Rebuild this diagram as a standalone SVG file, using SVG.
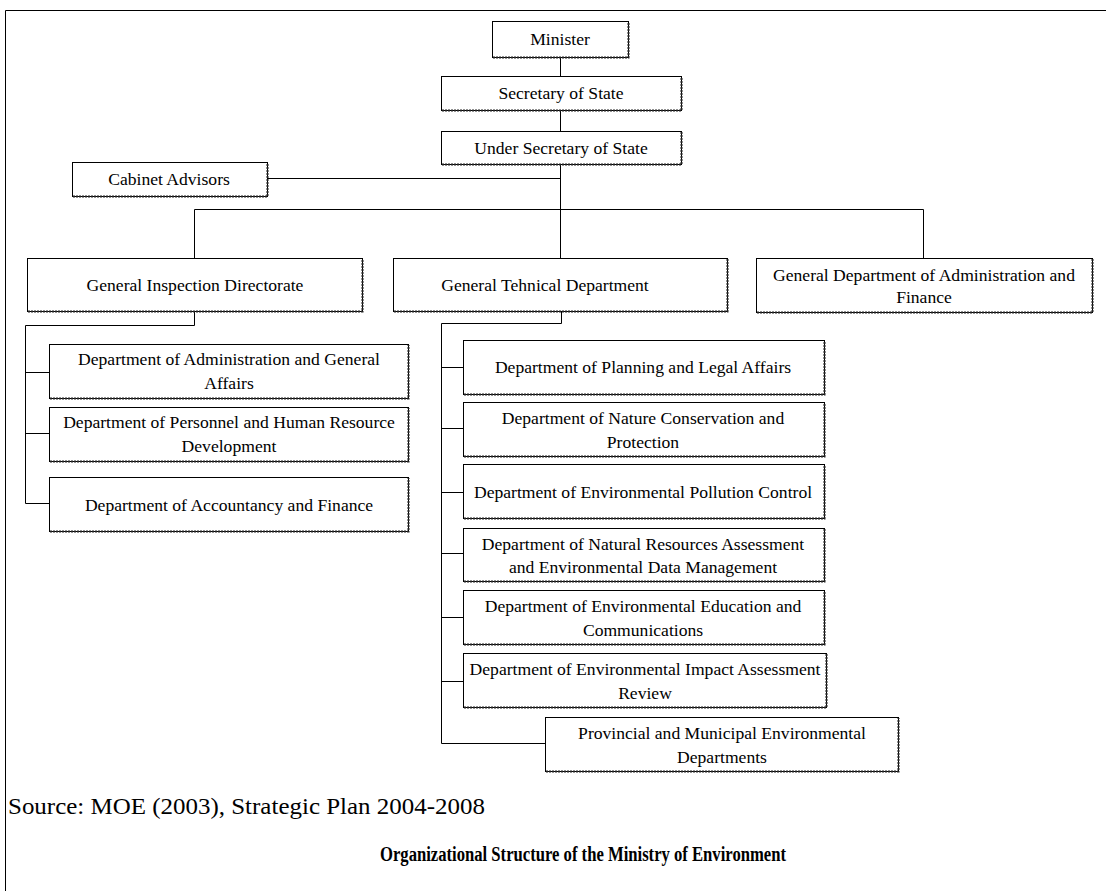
<svg xmlns="http://www.w3.org/2000/svg" width="1106" height="891" viewBox="0 0 1106 891">
<style>
.bx{fill:#fff;stroke:#000;stroke-width:1}
.sh{fill:none;stroke:#222;stroke-width:2;stroke-dasharray:2 1}
.t{font-family:'Liberation Serif','DejaVu Serif','Noto Serif',serif;font-size:17.6px;fill:#000;text-anchor:middle}
.src{font-family:'Liberation Serif','DejaVu Serif',serif;font-size:22.5px;fill:#000}
.ttl{font-family:'Liberation Serif','DejaVu Serif',serif;font-size:20px;font-weight:bold;fill:#000;text-anchor:middle}
.ln{fill:none;stroke:#000;stroke-width:1}
</style>
<rect width="1106" height="891" fill="#fff"/>
<g id="frame"><path d="M5.5 891 V10.5 H1106" class="ln" stroke-width="2"/></g>
<g id="connectors">
<path class="ln" d="M560.5 57 V258 M267 178.5 H560.5 M194.5 258 V209.5 H923.5 V258"/>
<path class="ln" d="M194.5 312 V325.5 H25.5 V503.5 H49 M25.5 372.5 H49 M25.5 433.5 H49"/>
<path class="ln" d="M561.5 312 V323.5 H441.5 V743.5 H545 M441.5 367.5 H463 M441.5 428.5 H463 M441.5 492.5 H463 M441.5 553.5 H463 M441.5 617.5 H463 M441.5 681.5 H463"/>
</g>
<g id="n-minister"><rect class="bx" x="492.5" y="21.5" width="136" height="36"/><path class="sh" d="M493 57.5 H628.5 V22"/><text class="t" x="560" y="45">Minister</text></g>
<g id="n-secretary"><rect class="bx" x="441.5" y="76.5" width="240" height="34"/><path class="sh" d="M442 110.5 H681.5 V77"/><text class="t" x="561" y="99">Secretary of State</text></g>
<g id="n-under"><rect class="bx" x="441.5" y="131.5" width="240" height="33"/><path class="sh" d="M442 164.5 H681.5 V132"/><text class="t" x="561" y="154">Under Secretary of State</text></g>
<g id="n-cabinet"><rect class="bx" x="72.5" y="162.5" width="195" height="34"/><path class="sh" d="M73 196.5 H267.5 V163"/><text class="t" x="169" y="185">Cabinet Advisors</text></g>
<g id="n-gid"><rect class="bx" x="27.5" y="258.5" width="335" height="53"/><path class="sh" d="M28 311.5 H362.5 V259"/><text class="t" x="195" y="291">General Inspection Directorate</text></g>
<g id="n-gtd"><rect class="bx" x="393.5" y="258.5" width="334" height="53"/><path class="sh" d="M394 311.5 H727.5 V259"/><text class="t" x="545" y="291">General Tehnical Department</text></g>
<g id="n-gdaf"><rect class="bx" x="756.5" y="258.5" width="336" height="54"/><path class="sh" d="M757 312.5 H1092.5 V259"/><text class="t" x="924" y="281">General Department of Administration and</text><text class="t" x="924" y="303">Finance</text></g>
<g id="n-admin"><rect class="bx" x="49.5" y="344.5" width="359" height="54"/><path class="sh" d="M50 398.5 H408.5 V345"/><text class="t" x="229" y="365">Department of Administration and General</text><text class="t" x="229" y="389">Affairs</text></g>
<g id="n-personnel"><rect class="bx" x="49.5" y="407.5" width="359" height="54"/><path class="sh" d="M50 461.5 H408.5 V408"/><text class="t" x="229" y="428">Department of Personnel and Human Resource</text><text class="t" x="229" y="452">Development</text></g>
<g id="n-accountancy"><rect class="bx" x="49.5" y="477.5" width="359" height="54"/><path class="sh" d="M50 531.5 H408.5 V478"/><text class="t" x="229" y="511">Department of Accountancy and Finance</text></g>
<g id="n-planning"><rect class="bx" x="463.5" y="340.5" width="361" height="54"/><path class="sh" d="M464 394.5 H824.5 V341"/><text class="t" x="643" y="373">Department of Planning and Legal Affairs</text></g>
<g id="n-nature"><rect class="bx" x="463.5" y="402.5" width="361" height="54"/><path class="sh" d="M464 456.5 H824.5 V403"/><text class="t" x="643" y="424">Department of Nature Conservation and</text><text class="t" x="643" y="448">Protection</text></g>
<g id="n-pollution"><rect class="bx" x="463.5" y="464.5" width="361" height="54"/><path class="sh" d="M464 518.5 H824.5 V465"/><text class="t" x="643" y="498">Department of Environmental Pollution Control</text></g>
<g id="n-natural"><rect class="bx" x="463.5" y="528.5" width="361" height="53"/><path class="sh" d="M464 581.5 H824.5 V529"/><text class="t" x="643" y="550">Department of Natural Resources Assessment</text><text class="t" x="643" y="573">and  Environmental Data Management</text></g>
<g id="n-education"><rect class="bx" x="463.5" y="590.5" width="361" height="54"/><path class="sh" d="M464 644.5 H824.5 V591"/><text class="t" x="643" y="612">Department of Environmental Education and</text><text class="t" x="643" y="636">Communications</text></g>
<g id="n-eia"><rect class="bx" x="463.5" y="653.5" width="363" height="54"/><path class="sh" d="M464 707.5 H826.5 V654"/><text class="t" x="645" y="675">Department of Environmental Impact Assessment</text><text class="t" x="645" y="699">Review</text></g>
<g id="n-provincial"><rect class="bx" x="545.5" y="717.5" width="353" height="54"/><path class="sh" d="M546 771.5 H898.5 V718"/><text class="t" x="722" y="739">Provincial and  Municipal Environmental</text><text class="t" x="722" y="763">Departments</text></g>
<text class="src" x="8" y="814" textLength="477" lengthAdjust="spacingAndGlyphs">Source: MOE (2003), Strategic Plan 2004-2008</text>
<text class="ttl" x="583" y="861" textLength="406" lengthAdjust="spacingAndGlyphs">Organizational Structure of the Ministry of Environment</text>
</svg>
